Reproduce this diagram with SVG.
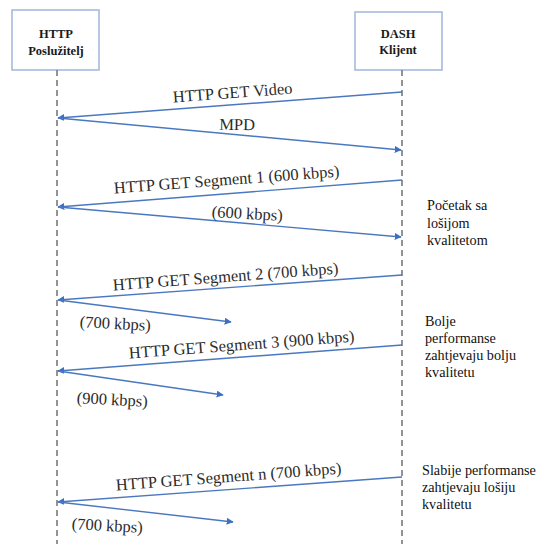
<svg xmlns="http://www.w3.org/2000/svg" width="539" height="544" viewBox="0 0 539 544">
  <style>
    .box { fill: #ffffff; stroke: #9fb6dc; stroke-width: 1.5; }
    .head { font-family: "Liberation Serif", "Times New Roman", serif; font-weight: bold; font-size: 12.5px; fill: #1a1a1a; text-anchor: middle; }
    .life { stroke: #707070; stroke-width: 1.5; stroke-dasharray: 6 4; fill: none; }
    .msg { stroke: #4a78c0; stroke-width: 1.4; fill: none; marker-end: url(#arr); }
    .lbl { font-family: "Liberation Serif", "Times New Roman", serif; font-size: 16.5px; fill: #2b2b2b; text-anchor: middle; }
    .note { font-family: "Liberation Serif", "Times New Roman", serif; font-size: 14.2px; fill: #111111; }
  </style>
  <defs>
    <marker id="arr" viewBox="0 0 10 10" refX="9" refY="5" markerWidth="7" markerHeight="7" markerUnits="userSpaceOnUse" orient="auto">
      <path d="M0,0 L10,5 L0,10 z" fill="#3f6fc0"/>
    </marker>
  </defs>
  <rect width="539" height="544" fill="#ffffff"/>

  <g id="server">
    <rect class="box" x="12" y="10" width="87" height="60"/>
    <text class="head" x="56" y="38">HTTP</text>
    <text class="head" x="56" y="55">Poslužitelj</text>
    <line class="life" x1="57" y1="70" x2="57" y2="544"/>
  </g>

  <g id="client">
    <rect class="box" x="355" y="12" width="87" height="58"/>
    <text class="head" x="398" y="38">DASH</text>
    <text class="head" x="398" y="54">Klijent</text>
    <line class="life" x1="402" y1="70" x2="402" y2="544"/>
  </g>

  <g id="connectors">
    <line class="msg" x1="402" y1="92" x2="58" y2="118"/>
    <line class="msg" x1="58" y1="118" x2="401" y2="150"/>
    <line class="msg" x1="402" y1="180" x2="58" y2="207"/>
    <line class="msg" x1="58" y1="207" x2="401" y2="237"/>
    <line class="msg" x1="402" y1="275" x2="58" y2="300"/>
    <line class="msg" x1="58" y1="300" x2="231" y2="322"/>
    <line class="msg" x1="402" y1="345" x2="58" y2="371"/>
    <line class="msg" x1="58" y1="371" x2="223" y2="395"/>
    <line class="msg" x1="402" y1="477" x2="58" y2="502"/>
    <line class="msg" x1="58" y1="502" x2="233" y2="522"/>
  </g>

  <g id="labels">
    <text class="lbl" transform="translate(233,98) rotate(-4.3)">HTTP GET Video</text>
    <text class="lbl" transform="translate(237,130) rotate(1)">MPD</text>
    <text class="lbl" transform="translate(227,185) rotate(-4.3)">HTTP GET Segment 1 (600 kbps)</text>
    <text class="lbl" transform="translate(247,219) rotate(3)">(600 kbps)</text>
    <text class="lbl" transform="translate(226,282) rotate(-4.3)">HTTP GET Segment 2 (700 kbps)</text>
    <text class="lbl" transform="translate(115,329) rotate(3)">(700 kbps)</text>
    <text class="lbl" transform="translate(242,350) rotate(-4.3)">HTTP GET Segment 3 (900 kbps)</text>
    <text class="lbl" transform="translate(112,405) rotate(3)">(900 kbps)</text>
    <text class="lbl" transform="translate(229,482) rotate(-4.3)">HTTP GET Segment n (700 kbps)</text>
    <text class="lbl" transform="translate(107,531) rotate(3)">(700 kbps)</text>
  </g>

  <g id="notes">
    <text class="note" x="427" y="210">Početak sa</text>
    <text class="note" x="427" y="228">lošijom</text>
    <text class="note" x="427" y="245">kvalitetom</text>
    <text class="note" x="425" y="326">Bolje</text>
    <text class="note" x="425" y="343">performanse</text>
    <text class="note" x="425" y="360">zahtjevaju bolju</text>
    <text class="note" x="425" y="377">kvalitetu</text>
    <text class="note" x="422" y="475">Slabije performanse</text>
    <text class="note" x="422" y="492">zahtjevaju lošiju</text>
    <text class="note" x="422" y="509">kvalitetu</text>
  </g>
</svg>
